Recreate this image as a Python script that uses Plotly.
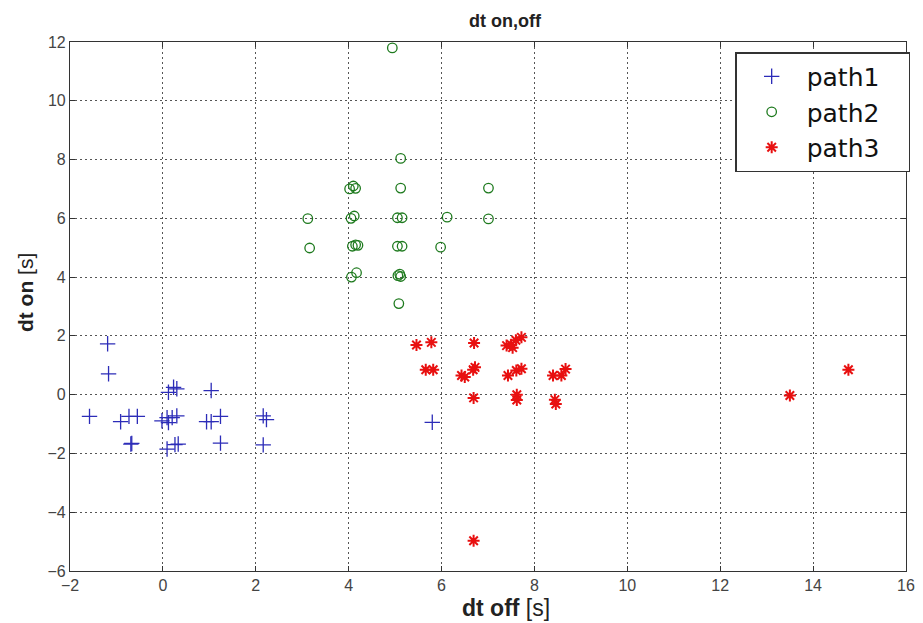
import plotly.graph_objects as go

path1_x = [-1.19, -1.17, -1.58, -0.91, -0.73, -0.55, -0.69, -0.67, 0.12, 0.23, 0.30, -0.02, 0.09, 0.20, 0.30, 0.12, 0.09, 0.26, 0.33, 1.04, 0.94, 1.04, 1.24, 1.24, 2.16, 2.23, 2.16, 5.80]
path1_y = [1.73, 0.71, -0.74, -0.92, -0.74, -0.74, -1.68, -1.66, 0.08, 0.25, 0.20, -0.89, -0.78, -0.78, -0.72, -0.95, -1.85, -1.70, -1.68, 0.14, -0.92, -0.92, -0.74, -1.65, -0.72, -0.85, -1.71, -0.94]

path2_x = [4.94, 5.12, 4.02, 4.10, 4.15, 5.12, 7.01, 3.12, 4.05, 4.12, 5.05, 5.15, 6.12, 7.01, 3.16, 4.08, 4.15, 4.20, 5.05, 5.15, 5.98, 4.06, 4.17, 5.06, 5.10, 5.12, 5.08]
path2_y = [11.80, 8.04, 7.00, 7.10, 7.02, 7.03, 7.03, 5.99, 6.00, 6.08, 6.02, 6.02, 6.04, 5.98, 4.99, 5.05, 5.10, 5.08, 5.05, 5.05, 5.02, 4.00, 4.15, 4.05, 4.10, 4.02, 3.10]

path3_x = [5.46, 5.78, 5.66, 5.82, 6.43, 6.50, 6.72, 6.68, 6.70, 6.69, 6.69, 7.40, 7.50, 7.53, 7.72, 7.60, 7.43, 7.61, 7.72, 7.62, 7.62, 8.40, 8.58, 8.67, 8.44, 8.46, 13.50, 14.76]
path3_y = [1.69, 1.78, 0.85, 0.85, 0.65, 0.60, 0.93, 0.85, 1.76, -0.11, -4.97, 1.67, 1.70, 1.60, 1.95, 1.85, 0.65, 0.82, 0.88, 0.00, -0.18, 0.65, 0.65, 0.87, -0.17, -0.32, -0.03, 0.85]

x_ticks = [-2, 0, 2, 4, 6, 8, 10, 12, 14, 16]
y_ticks = [-6, -4, -2, 0, 2, 4, 6, 8, 10, 12]

title_text = "dt on,off"
x_label = "dt off"
y_label = "dt on"
unit = "[s]"

SANS = "Liberation Sans, Arial, sans-serif"
NBSP = "\u00a0\u00a0\u00a0"

fig = go.Figure()
fig.add_trace(go.Scatter(x=path1_x, y=path1_y, mode="markers", name="path1" + NBSP,
                         marker=dict(symbol="cross-thin-open", size=11, color="#2c2cb8",
                                     line=dict(width=1.3, color="#2c2cb8"))))
fig.add_trace(go.Scatter(x=path2_x, y=path2_y, mode="markers", name="path2" + NBSP,
                         marker=dict(symbol="circle-open", size=9.5, color="#1e7a1e",
                                     line=dict(width=1.3, color="#1e7a1e"))))
fig.add_trace(go.Scatter(x=path3_x, y=path3_y, mode="markers", name="path3" + NBSP,
                         marker=dict(symbol="asterisk-open", size=10, color="#e81010",
                                     line=dict(width=2, color="#e81010"))))

axis_common = dict(showline=True, linecolor="#333", linewidth=1.2, mirror="ticks",
                   ticks="inside", ticklen=5, tickcolor="#333",
                   showgrid=True, gridcolor="#555", griddash="2px,3px", gridwidth=1,
                   zeroline=False, automargin=False,
                   tickfont=dict(family=SANS, size=16, color="#444"))

# the page body adds an 8px offset, so the figure is sized/margined to compensate
fig.update_layout(
    width=915, height=615,
    margin=dict(l=62, r=17, t=34, b=52),
    paper_bgcolor="white", plot_bgcolor="white",
    xaxis=dict(range=[-2, 16], tickvals=x_ticks, **axis_common),
    yaxis=dict(range=[-6, 12], tickvals=y_ticks, **axis_common),
    legend=dict(x=1.005, xanchor="right", y=0.981, yanchor="top",
                bgcolor="white", bordercolor="#333", borderwidth=1.5,
                font=dict(family="DejaVu Sans, sans-serif", size=25, color="#111"),
                itemwidth=60),
    showlegend=True,
    annotations=[
        dict(text="<b>" + title_text + "</b>", xref="paper", yref="paper",
             x=0.5215, y=1.0397, xanchor="center", yanchor="middle", showarrow=False,
             font=dict(family=SANS, size=18, color="#222")),
        dict(text="<b>" + x_label + "</b> " + unit, xref="paper", yref="paper",
             x=0.5215, y=-0.069, xanchor="center", yanchor="middle", showarrow=False,
             font=dict(family=SANS, size=23, color="#222")),
        dict(text="<b>" + y_label + "</b> " + unit, xref="paper", yref="paper",
             x=-0.0538, y=0.5255, xanchor="center", yanchor="middle", showarrow=False,
             textangle=-90, font=dict(family=SANS, size=21, color="#222")),
    ],
)

fig.write_html("out.html")
